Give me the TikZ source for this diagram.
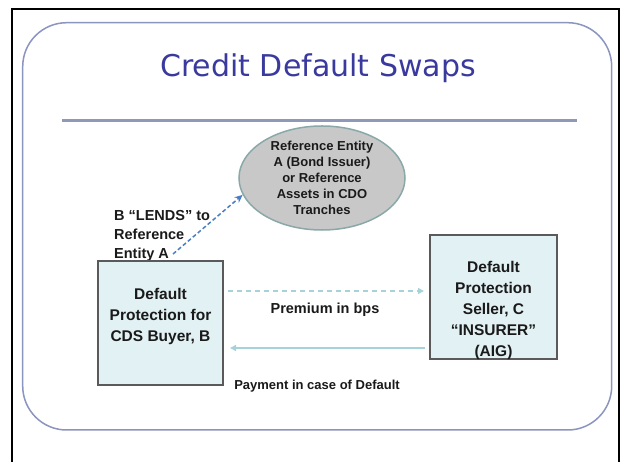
\documentclass[tikz,border=0pt]{standalone}
\usepackage{fontspec}
\setmainfont{Liberation Sans}
\newfontfamily\titlefont{DejaVu Sans}
\usetikzlibrary{shapes.geometric,arrows.meta,calc}
\definecolor{frameblue}{HTML}{8C94C0}
\definecolor{rulecol}{HTML}{9098B8}
\definecolor{titleblue}{HTML}{3A3A9E}
\definecolor{boxfill}{HTML}{E2F1F4}
\definecolor{boxline}{HTML}{5A5A5A}
\definecolor{ellfill}{HTML}{C8C8C8}
\definecolor{ellline}{HTML}{8AA8A8}
\definecolor{lendblue}{HTML}{4A7EC4}
\definecolor{flowteal}{HTML}{A8D2DA}
\definecolor{txt}{HTML}{1A1A1A}
\tikzset{
  partybox/.style={draw=boxline, line width=1.6pt, fill=boxfill, rectangle, inner sep=0pt, outer sep=0pt},
  boxtext/.style={align=center, text=txt, font=\bfseries\fontsize{15.5}{21}\selectfont, inner sep=0pt},
  smalltext/.style={text=txt, font=\bfseries\fontsize{13}{16}\selectfont, inner sep=0pt},
  flowarrow/.style={draw=flowteal, line width=1.4pt, -{Triangle[length=6pt,width=6pt]}},
}
\begin{document}
\begin{tikzpicture}[x=1pt,y=-1pt]
\useasboundingbox (0,0) rectangle (622,462);
\fill[white] (0,0) rectangle (622,462);
% outer black frame
\draw[black, line width=2.5pt] (12,470) -- (12,9) -- (619,9) -- (619,470);
% rounded slide frame
\draw[frameblue, line width=1.5pt, rounded corners=44pt] (22.7,22.7) rectangle (611.7,430);
% title
\node[anchor=base, text=titleblue, font=\titlefont\fontsize{30}{35}\selectfont, inner sep=0pt] (title) at (318,77) {Credit Default Swaps};
\draw[rulecol, line width=3pt] (62,121) -- (577,121);
% reference entity ellipse
\node[ellipse, draw=ellline, line width=1.5pt, fill=ellfill, minimum width=166pt, minimum height=90pt, inner sep=0pt,
      align=center, text=txt, font=\bfseries\fontsize{13}{16}\selectfont] (ref) at (322,178)
  {Reference Entity\\A (Bond Issuer)\\or Reference\\Assets in CDO\\Tranches};
% lends label
\node[anchor=north west, align=left, text=txt, font=\bfseries\fontsize{14.5}{19}\selectfont, inner sep=0pt] (lends) at (114,210.5)
  {B “LENDS” to\\Reference\\Entity A};
\coordinate (lendstart) at (173,254);
\draw[lendblue, line width=1.5pt, dashed, dash pattern=on 4pt off 2.5pt, -{Stealth[length=8pt,width=7pt]}] (lendstart) -- (ref.192);
% buyer box
\node[partybox, minimum width=125pt, minimum height=124pt] (buyer) at (160.5,323) {};
\node[boxtext] (buyertxt) at (160.5,316) {Default\\Protection for\\CDS Buyer, B};
% seller box
\node[partybox, minimum width=127pt, minimum height=124pt] (seller) at (493.5,297) {};
\node[boxtext] (sellertxt) at (493.5,310) {Default\\Protection\\Seller, C\\“INSURER”\\(AIG)};
% premium flow
\draw[flowarrow, dashed, dash pattern=on 5pt off 4pt] ($(buyer.north east)+(5,30)$) -- ($(seller.west)+(-6,-6)$);
\node[smalltext, font=\bfseries\fontsize{14.5}{18}\selectfont] (prem) at (325,310) {Premium in bps};
% payment flow
\draw[flowarrow] ($(seller.west)+(-5,51)$) -- ($(buyer.east)+(7,25)$);
\node[smalltext] (pay) at (317,386) {Payment in case of Default};
\end{tikzpicture}
\end{document}
